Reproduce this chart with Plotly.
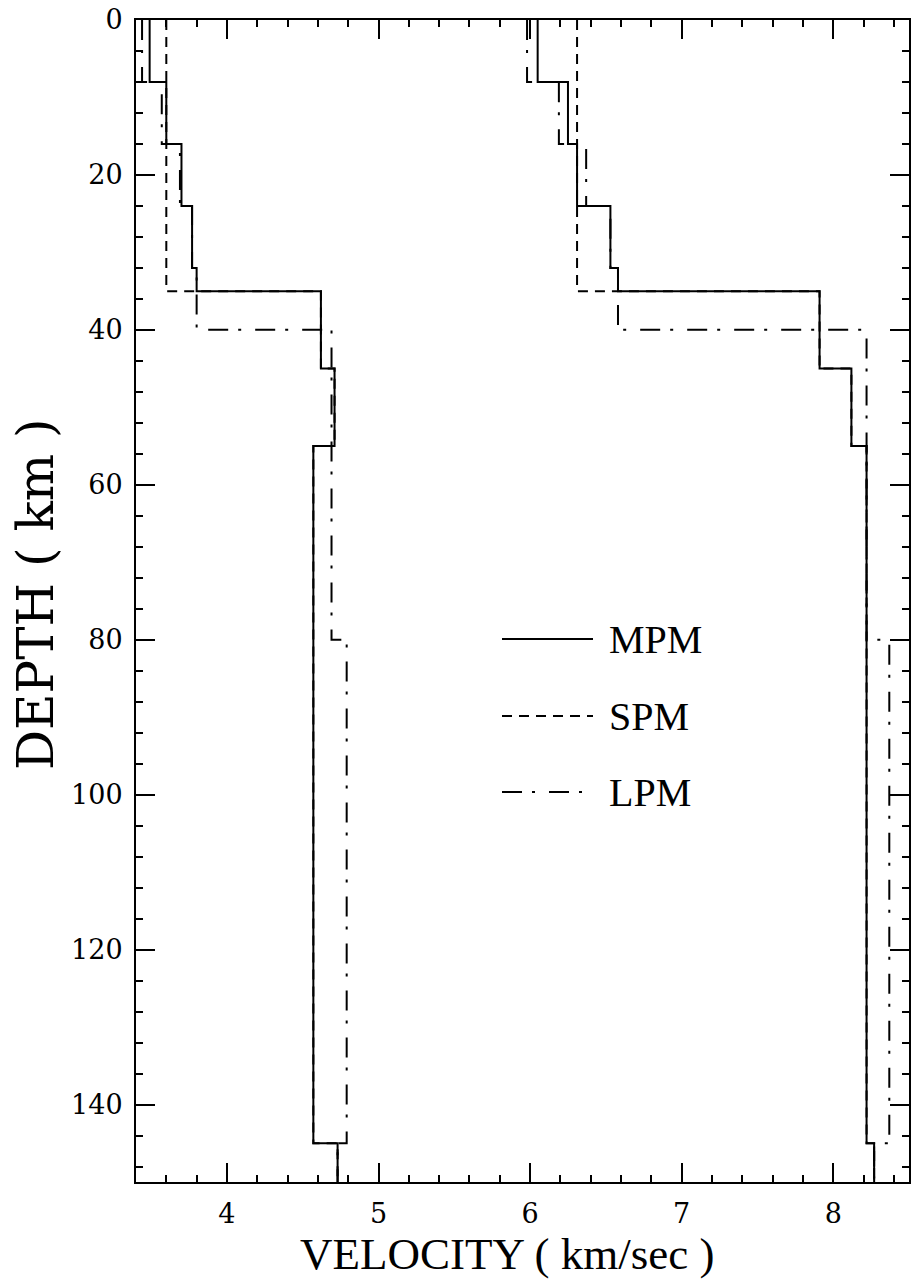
import plotly.graph_objects as go

# ---- data (layer tops in km, velocities in km/s) ----
mpm_tops = [0, 8, 16, 24, 32, 35, 45, 55, 145]
mpm_vs = [3.49, 3.60, 3.70, 3.77, 3.80, 4.62, 4.71, 4.57, 4.73]
mpm_vp = [6.05, 6.25, 6.31, 6.53, 6.58, 7.91, 8.12, 8.22, 8.27]

spm_tops = [0, 35, 45, 55, 145]
spm_vs = [3.60, 4.62, 4.71, 4.57, 4.73]
spm_vp = [6.31, 7.91, 8.12, 8.22, 8.27]

lpm_tops = [0, 8, 16, 24, 32, 40, 80, 145]
lpm_vs = [3.44, 3.57, 3.69, 3.77, 3.80, 4.69, 4.79, 4.73]
lpm_vp = [5.98, 6.19, 6.37, 6.53, 6.58, 8.22, 8.37, 8.27]

max_depth = 150
model_names = ["MPM", "SPM", "LPM"]

SERIF = "Liberation Serif"
DASH = {"MPM": "solid", "SPM": "10px,7px", "LPM": "20px,10px,3px,14px"}

# plot-area geometry in pixels
L, R, T, B = 136, 909, 20, 1182
PW, PH = R - L, B - T

def px(xp):
    return (xp - L) / PW

def py(yp):
    return (B - yp) / PH

fig = go.Figure()

def add_profile(tops, vel, name):
    xs = list(vel) + [vel[-1]]
    ys = list(tops) + [max_depth]
    fig.add_trace(go.Scatter(
        x=xs, y=ys, mode="lines", line_shape="vh",
        line=dict(color="black", width=2, dash=DASH[name]),
        showlegend=False, name=name, hoverinfo="skip"))

# draw dashed first, solid on top
add_profile(lpm_tops, lpm_vs, "LPM")
add_profile(lpm_tops, lpm_vp, "LPM")
add_profile(spm_tops, spm_vs, "SPM")
add_profile(spm_tops, spm_vp, "SPM")
add_profile(mpm_tops, mpm_vs, "MPM")
add_profile(mpm_tops, mpm_vp, "MPM")

# ---- legend drawn as samples + text ----
leg_y = [639, 716, 792]
for name, yp in zip(model_names, leg_y):
    fig.add_shape(type="line", xref="paper", yref="paper",
                  x0=px(502), x1=px(593), y0=py(yp), y1=py(yp),
                  line=dict(color="black", width=2, dash=DASH[name]))
    fig.add_annotation(xref="paper", yref="paper",
                       x=px(607), y=py(yp),
                       text=name, showarrow=False, xanchor="left", yanchor="middle",
                       font=dict(family=SERIF, size=40, color="black"))

# axis titles
fig.add_annotation(xref="paper", yref="paper", x=px(507), y=py(1254),
                   text="VELOCITY ( km/sec )", showarrow=False,
                   xanchor="center", yanchor="middle",
                   font=dict(family=SERIF, size=45, color="black"))
fig.add_annotation(xref="paper", yref="paper", x=px(36), y=py(594),
                   text="DEPTH ( km )", showarrow=False, textangle=-90,
                   xanchor="center", yanchor="middle",
                   font=dict(family="DejaVu Serif", size=50, color="black"))

axis_common = dict(
    showline=True, linecolor="black", linewidth=2, mirror="allticks",
    ticks="inside", tickcolor="black", tickwidth=2, ticklen=19,
    showgrid=False, zeroline=False,
    tickfont=dict(family="DejaVu Serif", size=27, color="black"),
)

fig.update_xaxes(
    range=[3.4, 8.5], tick0=0, dtick=1,
    minor=dict(ticks="inside", ticklen=7, tickwidth=2, tickcolor="black", dtick=0.2, tick0=0, showgrid=False),
    ticklabelstandoff=7,
    **axis_common)
fig.update_yaxes(
    range=[max_depth, 0], tick0=0, dtick=20,
    minor=dict(ticks="inside", ticklen=7, tickwidth=2, tickcolor="black", dtick=4, tick0=0, showgrid=False),
    ticklabelstandoff=6,
    **axis_common)

fig.update_layout(
    width=911, height=1288,
    margin=dict(l=L, r=911 - R, t=T, b=1288 - B, autoexpand=False),
    paper_bgcolor="white", plot_bgcolor="white",
    showlegend=False,
)

fig.write_html("out.html")
